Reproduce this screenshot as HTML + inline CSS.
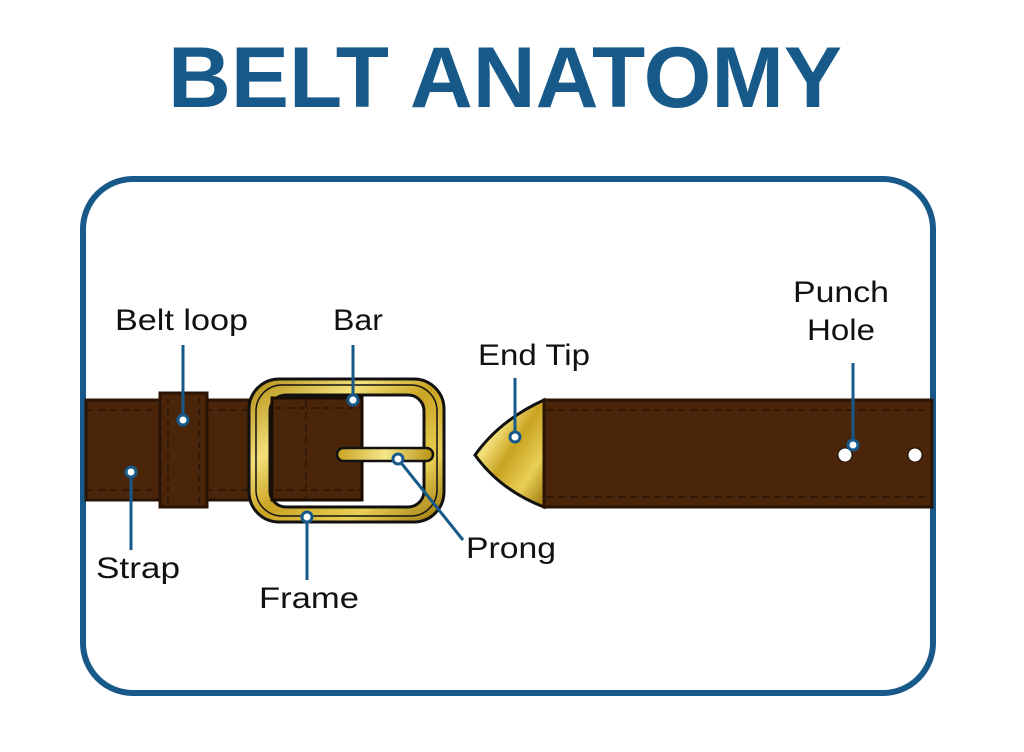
<!DOCTYPE html>
<html><head><meta charset="utf-8"><style>
html,body{margin:0;padding:0;background:#fff;width:1024px;height:752px;overflow:hidden}
svg{display:block}
text{font-family:"Liberation Sans",sans-serif}
</style></head><body>
<svg width="1024" height="752" viewBox="0 0 1024 752" xmlns="http://www.w3.org/2000/svg">
<defs>
<linearGradient id="g" x1="0" y1="0" x2="1" y2="1">
<stop offset="0" stop-color="#b08a10"/><stop offset="0.3" stop-color="#f3e07a"/><stop offset="0.5" stop-color="#c9a322"/><stop offset="0.75" stop-color="#e8cf55"/><stop offset="1" stop-color="#9a7508"/>
</linearGradient>
<linearGradient id="g2" x1="0" y1="0" x2="1" y2="0">
<stop offset="0" stop-color="#c9a322"/><stop offset="0.5" stop-color="#f5e68a"/><stop offset="1" stop-color="#b89213"/>
</linearGradient>
</defs>
<text x="168" y="107" font-size="86" font-weight="bold" fill="#175a8a" textLength="674" lengthAdjust="spacingAndGlyphs">BELT ANATOMY</text>
<rect x="83" y="179" width="850" height="514" rx="50" fill="none" stroke="#175a8a" stroke-width="6"/>

<!-- left strap -->
<rect x="86" y="400" width="190" height="100" fill="#4a2509" stroke="#2a1405" stroke-width="3"/>
<line x1="86" y1="410" x2="276" y2="410" stroke="#2a1405" stroke-width="1.5" stroke-dasharray="7,5"/>
<line x1="86" y1="490" x2="276" y2="490" stroke="#2a1405" stroke-width="1.5" stroke-dasharray="7,5"/>
<!-- loop -->
<rect x="160" y="393" width="47" height="114" fill="#4a2509" stroke="#2a1405" stroke-width="3"/>
<line x1="168" y1="398" x2="168" y2="503" stroke="#2a1405" stroke-width="1.5" stroke-dasharray="6,5"/>
<line x1="199" y1="398" x2="199" y2="503" stroke="#2a1405" stroke-width="1.5" stroke-dasharray="6,5"/>

<!-- buckle -->
<rect x="249" y="379" width="195" height="143" rx="30" fill="url(#g)" stroke="#111" stroke-width="3"/>
<rect x="256" y="385" width="181" height="131" rx="26" fill="none" stroke="#111" stroke-width="1.5"/>
<rect x="270" y="395" width="154" height="112" rx="16" fill="#fff" stroke="#111" stroke-width="3"/>
<rect x="272" y="398" width="90" height="102" fill="#4a2509" stroke="#1a0d03" stroke-width="3"/>
<line x1="275" y1="408" x2="360" y2="408" stroke="#2a1405" stroke-width="1.5" stroke-dasharray="7,5"/>
<line x1="275" y1="490" x2="360" y2="490" stroke="#2a1405" stroke-width="1.5" stroke-dasharray="7,5"/>
<line x1="306" y1="400" x2="306" y2="498" stroke="#2a1405" stroke-width="1.5" stroke-dasharray="7,5"/>
<rect x="337" y="448" width="96" height="13" rx="6.5" fill="url(#g2)" stroke="#111" stroke-width="2.5"/>

<!-- end tip -->
<path d="M544 400 L544 507 Q500 490 475 455 Q500 420 544 400 Z" fill="url(#g)" stroke="#111" stroke-width="3"/>
<!-- right strap -->
<rect x="544" y="400" width="388" height="107" fill="#4a2509" stroke="#2a1405" stroke-width="3"/>
<line x1="546" y1="410" x2="930" y2="410" stroke="#2a1405" stroke-width="1.5" stroke-dasharray="7,5"/>
<line x1="546" y1="497" x2="930" y2="497" stroke="#2a1405" stroke-width="1.5" stroke-dasharray="7,5"/>
<circle cx="845" cy="455" r="7" fill="#fff" stroke="#1a0d03" stroke-width="1"/>
<circle cx="915" cy="455" r="7" fill="#fff" stroke="#1a0d03" stroke-width="1"/>

<!-- leaders -->
<g stroke="#175a8a" stroke-width="3" fill="none">
<line x1="183" y1="345" x2="183" y2="420"/>
<line x1="353" y1="345" x2="353" y2="400"/>
<line x1="515" y1="378" x2="515" y2="437"/>
<line x1="853" y1="363" x2="853" y2="445"/>
<line x1="131" y1="472" x2="131" y2="550"/>
<line x1="307" y1="517" x2="307" y2="580"/>
<line x1="398" y1="459" x2="463" y2="540"/>
</g>
<g fill="#fff" stroke="#175a8a" stroke-width="3">
<circle cx="183" cy="420" r="5"/><circle cx="353" cy="400" r="5"/><circle cx="515" cy="437" r="5"/>
<circle cx="853" cy="445" r="5"/><circle cx="131" cy="472" r="5"/><circle cx="307" cy="517" r="5"/><circle cx="398" cy="459" r="5"/>
</g>

<g font-size="30" fill="#111">
<text x="115" y="330" textLength="133" lengthAdjust="spacingAndGlyphs">Belt loop</text>
<text x="333" y="330" textLength="50" lengthAdjust="spacingAndGlyphs">Bar</text>
<text x="478" y="365" textLength="112" lengthAdjust="spacingAndGlyphs">End Tip</text>
<text x="793" y="302" textLength="96" lengthAdjust="spacingAndGlyphs">Punch</text>
<text x="807" y="340" textLength="68" lengthAdjust="spacingAndGlyphs">Hole</text>
<text x="96" y="578" textLength="84" lengthAdjust="spacingAndGlyphs">Strap</text>
<text x="259" y="608" textLength="100" lengthAdjust="spacingAndGlyphs">Frame</text>
<text x="466" y="558" textLength="90" lengthAdjust="spacingAndGlyphs">Prong</text>
</g>
</svg>
</body></html>
